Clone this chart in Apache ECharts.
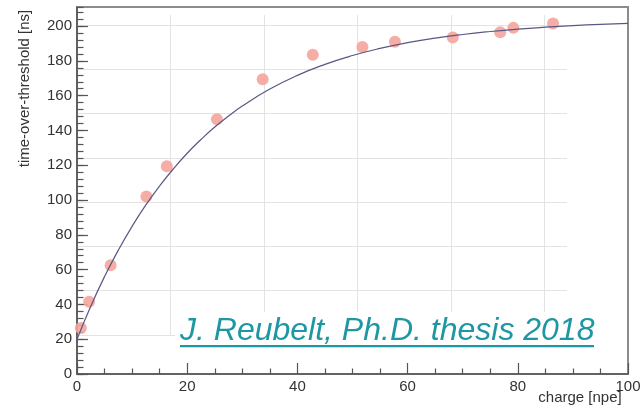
<!DOCTYPE html>
<html>
<head>
<meta charset="utf-8">
<script src="https://cdn.jsdelivr.net/npm/echarts@6/dist/echarts.min.js"></script>
<style>
html,body{margin:0;padding:0;background:#fff;}
#c{width:644px;height:410px;}
</style>
</head>
<body>
<div id="c"></div>
<script>
// measured points: charge [npe] vs time-over-threshold [ns]
const chargeX = [0.7, 2.2, 6.1, 12.6, 16.3, 25.4, 33.7, 42.8, 51.8, 57.7, 68.2, 76.8, 79.2, 86.4];
const totY = [26.5, 41.5, 62.5, 102, 119.5, 146.5, 169.5, 183.5, 188, 191, 193.5, 196.5, 199, 201.5];
// fit curve, values
const curveX = [0, 2.5, 5, 7.5, 10, 12.5, 15, 17.5, 20, 22.5, 25, 27.5, 30, 35, 40, 45, 50, 55, 60, 65, 70, 75, 80, 85, 90, 95, 100];
const curveY = [20, 39, 56, 71.2, 84.9, 97.2, 108.1, 118, 126.9, 134.8, 142, 148.3, 154.1, 163.8, 171.7, 178, 183.1, 187.2, 190.5, 193.1, 195.2, 196.9, 198.3, 199.4, 200.3, 201, 201.6];
const xTitle = 'charge [npe]';
const yTitle = 'time-over-threshold [ns]';
const noteText = 'J. Reubelt, Ph.D. thesis 2018';

const pts = chargeX.map((x, i) => [x, totY[i]]);
const curve = curveX.map((x, i) => [x, curveY[i]]);

const font = 'Liberation Sans, Arial, Helvetica, sans-serif';
const chart = echarts.init(document.getElementById('c'), null, {renderer: 'canvas'});
chart.setOption({
  animation: false,
  backgroundColor: '#ffffff',
  grid: [
    {left: 77, right: 16, top: 7, bottom: 33, show: true, borderColor: '#8c8c8c', borderWidth: 2, backgroundColor: 'transparent'},
    {left: 77, right: 77, top: 15, bottom: 75, show: false}
  ],
  xAxis: [
    {
      type: 'value', gridIndex: 0, min: 0, max: 100, interval: 20,
      name: xTitle, nameLocation: 'middle', nameGap: 16, nameMoveOverlap: false,
      nameTextStyle: {fontFamily: font, fontSize: 15, color: '#333', padding: [0, 0, 0, 455]},
      axisLine: {show: true, onZero: false, lineStyle: {color: '#555', width: 1.5}},
      axisTick: {show: true, inside: true, length: 11, lineStyle: {color: '#555', width: 1.2}},
      minorTick: {show: true, splitNumber: 4, length: 5.5, lineStyle: {color: '#555', width: 1.2}},
      axisLabel: {fontFamily: font, fontSize: 15, color: '#333', margin: 5},
      splitLine: {show: false}
    },
    {
      type: 'value', gridIndex: 1, min: 0, max: 5.24, interval: 1,
      axisLine: {show: false}, axisTick: {show: false}, axisLabel: {show: false},
      splitLine: {show: true, showMinLine: false, showMaxLine: false, lineStyle: {color: '#e3e3e3', width: 1}}
    }
  ],
  yAxis: [
    {
      type: 'value', gridIndex: 0, position: 'left', min: 0, max: 211, interval: 20,
      name: yTitle, nameLocation: 'middle', nameGap: 45, nameRotate: 90, nameMoveOverlap: false,
      nameTextStyle: {fontFamily: font, fontSize: 15, color: '#333', padding: [0, 0, 0, 204]},
      axisLine: {show: true, onZero: false, lineStyle: {color: '#555', width: 1.5}},
      axisTick: {show: true, inside: true, length: 11, lineStyle: {color: '#555', width: 1.2}},
      axisLabel: {fontFamily: font, fontSize: 15, color: '#333', margin: 5, showMaxLabel: false},
      splitLine: {show: false}
    },
    {
      type: 'value', gridIndex: 0, position: 'left', offset: 0, min: 0, max: 211, interval: 4,
      axisLine: {show: false},
      axisTick: {show: true, inside: true, length: 6.5, lineStyle: {color: '#555', width: 1.2}},
      axisLabel: {show: false}, splitLine: {show: false}
    },
    {
      type: 'value', gridIndex: 1, min: 0, max: 7.226, interval: 1,
      axisLine: {show: false}, axisTick: {show: false}, axisLabel: {show: false},
      splitLine: {show: true, showMinLine: true, showMaxLine: false, lineStyle: {color: '#e3e3e3', width: 1}}
    }
  ],
  graphic: [
    {type: 'rect', z: 5, shape: {x: 175, y: 312, width: 424, height: 38}, style: {fill: '#ffffff'}},
    {type: 'text', z: 6, x: 180, y: 331.5, style: {text: noteText, fontFamily: font, fontStyle: 'italic', fontSize: 32, fill: '#1d97a3', verticalAlign: 'middle', align: 'left'}},
    {type: 'rect', z: 6, shape: {x: 180, y: 345, width: 414, height: 2.2}, style: {fill: '#1d97a3'}}
  ],
  series: [
    {
      type: 'scatter', xAxisIndex: 0, yAxisIndex: 0, data: pts,
      symbol: 'circle', symbolSize: 12,
      itemStyle: {color: '#f5a49b', opacity: 0.9},
      z: 3
    },
    {
      type: 'line', xAxisIndex: 0, yAxisIndex: 0, data: curve,
      showSymbol: false, smooth: true, clip: true,
      lineStyle: {color: '#585885', width: 1.2},
      z: 4
    }
  ]
});
</script>
</body>
</html>
